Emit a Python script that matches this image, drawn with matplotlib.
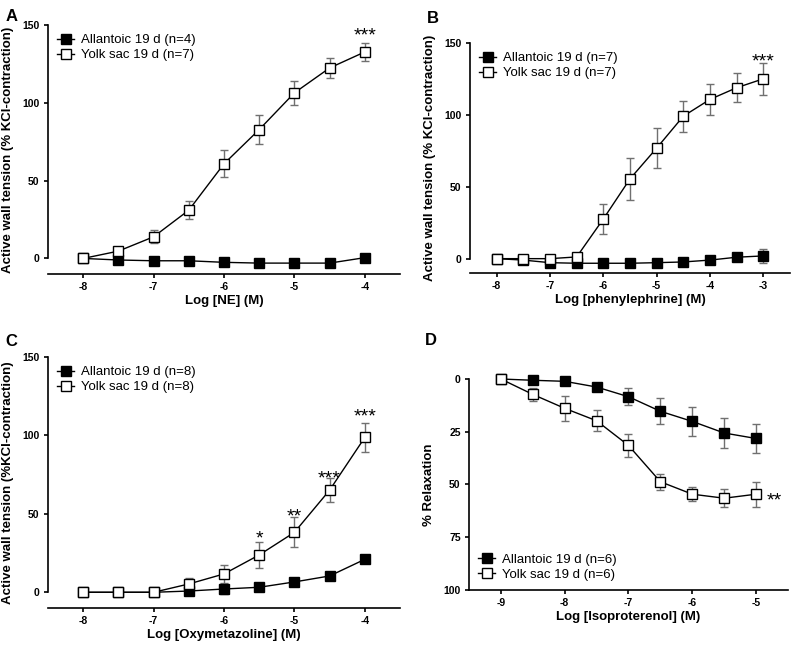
import matplotlib
matplotlib.use("Agg")
import matplotlib.pyplot as plt

plt.rcParams['font.family'] = ['Liberation Sans', 'DejaVu Sans']
plt.rcParams['axes.unicode_minus'] = False

# panel A - NE
a_x = [-8, -7.5, -7, -6.5, -6, -5.5, -5, -4.5, -4]
a_allan = [0, -1, -1.5, -1.5, -2.5, -3, -3, -3, 0.5]
a_allan_err = [0, 0, 0, 0, 0, 0, 0, 0, 0]
a_yolk = [0, 4.7, 13.9, 31, 60.8, 82.8, 106.4, 122.4, 132.7]
a_yolk_err = [0, 2, 4.3, 5.8, 8.7, 9.2, 7.5, 6.2, 5.8]

# panel B - phenylephrine
b_x = [-8, -7.5, -7, -6.5, -6, -5.5, -5, -4.5, -4, -3.5, -3]
b_allan = [0, -1, -2.8, -3.2, -3.2, -3.2, -2.8, -2.3, -1, 1, 1.9]
b_allan_err = [0, 0, 0, 0, 0, 0, 0, 0, 1.5, 1.5, 4.8]
b_yolk = [0, 0, 0, 1.2, 27.6, 55.5, 76.9, 99.1, 110.8, 118.9, 125.1]
b_yolk_err = [0, 0, 0, 0, 10.4, 14.4, 13.9, 10.7, 10.9, 10.2, 11.1]

# panel C - oxymetazoline
c_x = [-8, -7.5, -7, -6.5, -6, -5.5, -5, -4.5, -4]
c_allan = [0, 0, 0, 0.8, 2.1, 3.2, 6.6, 10.4, 21]
c_allan_err = [0, 0, 0, 0, 3.5, 0, 0, 1.5, 1.5]
c_yolk = [0, 0, 0, 5.3, 11.7, 23.8, 38.2, 65.1, 98.7]
c_yolk_err = [0, 0, 0, 3.5, 5.7, 8, 9.5, 7.5, 9.5]

# panel D - isoproterenol (relaxation)
d_x = [-9, -8.5, -8, -7.5, -7, -6.5, -6, -5.5, -5]
d_allan = [0, 0.6, 1.1, 3.8, 8.4, 15.3, 20.1, 25.6, 28.2]
d_allan_err = [0, 0, 0, 1.5, 4.1, 6.1, 6.7, 7.1, 6.8]
d_yolk = [0, 7.3, 13.9, 19.8, 31.5, 48.7, 54.6, 56.5, 54.6]
d_yolk_err = [0, 3, 5.8, 5, 5.4, 3.9, 3.3, 4.3, 6]

fig = plt.figure(figsize=(7.93, 6.45), dpi=100)


def panel(rect, x, allan, allan_err, yolk, yolk_err, n_allan, n_yolk,
          xlabel, ylabel, xlim, ylim, yticks, legend_loc):
    ax = fig.add_axes(rect)
    for y, e, face, lab in [(allan, allan_err, 'black', 'Allantoic 19 d (n=%d)' % n_allan),
                            (yolk, yolk_err, 'white', 'Yolk sac 19 d (n=%d)' % n_yolk)]:
        ax.errorbar(x, y, yerr=e, fmt='none', ecolor='#707070', elinewidth=1,
                    capsize=3, capthick=1, clip_on=False, zorder=2)
        ax.plot(x, y, color='black', lw=1, marker='s', ms=7.5, mfc=face, mec='black',
                mew=1, label=lab, clip_on=False, zorder=3)
    ax.set_xlim(*xlim)
    ax.set_ylim(*ylim)
    ax.set_xticks(range(int(x[0]), int(x[-1]) + 1))
    ax.set_yticks(yticks)
    ax.spines['top'].set_visible(False)
    ax.spines['right'].set_visible(False)
    ax.spines['left'].set_bounds(min(yticks), max(yticks))
    for s in ['left', 'bottom']:
        ax.spines[s].set_linewidth(1.2)
    ax.tick_params(direction='out', length=3, width=1.2, labelsize=7.5, pad=3)
    for t in ax.get_xticklabels() + ax.get_yticklabels():
        t.set_fontweight('bold')
    ax.set_xlabel(xlabel, fontsize=9.5, fontweight='bold', labelpad=2)
    ax.set_ylabel(ylabel, fontsize=9.5, fontweight='bold', labelpad=6)
    ax.legend(loc=legend_loc, frameon=False, fontsize=9.5, handlelength=1.3,
              handletextpad=0.5, borderaxespad=0.3, labelspacing=0.2, markerscale=0.9)
    return ax


ax_a = panel([0.0605, 0.5752, 0.4439, 0.386], a_x, a_allan, a_allan_err, a_yolk, a_yolk_err,
             4, 7, 'Log [NE] (M)', 'Active wall tension (% KCl-contraction)',
             (-8.5, -3.5), (-10, 150), [0, 50, 100, 150], 'upper left')
ax_a.text(-4, 143, '***', ha='center', va='center', fontsize=14)

ax_b = panel([0.5927, 0.5767, 0.4035, 0.3566], b_x, b_allan, b_allan_err, b_yolk, b_yolk_err,
             7, 7, 'Log [phenylephrine] (M)', 'Active wall tension (% KCl-contraction)',
             (-8.5, -2.5), (-10, 150), [0, 50, 100, 150], 'upper left')
ax_b.text(-3, 137, '***', ha='center', va='center', fontsize=14)

ax_c = panel([0.0605, 0.0574, 0.4439, 0.3891], c_x, c_allan, c_allan_err, c_yolk, c_yolk_err,
             8, 8, 'Log [Oxymetazoline] (M)', 'Active wall tension (%KCl-contraction)',
             (-8.5, -3.5), (-10, 150), [0, 50, 100, 150], 'upper left')
for sx, sy, st in [(-5.5, 34, '*'), (-5, 48, '**'), (-4.5, 72, '***'), (-4, 112, '***')]:
    ax_c.text(sx, sy, st, ha='center', va='center', fontsize=14)

ax_d = panel([0.5914, 0.0853, 0.4023, 0.3271], d_x, d_allan, d_allan_err, d_yolk, d_yolk_err,
             6, 6, 'Log [Isoproterenol] (M)', '% Relaxation',
             (-9.5, -4.5), (100, 0), [0, 25, 50, 75, 100], 'lower left')
ax_d.text(-4.72, 58, '**', ha='center', va='center', fontsize=14)

for lx, ly, lab in [(0.007, 0.975, 'A'), (0.538, 0.972, 'B'), (0.007, 0.47, 'C'), (0.536, 0.472, 'D')]:
    fig.text(lx, ly, lab, fontsize=12, fontweight='bold', va='center')

fig.savefig('out.png', dpi=100)
